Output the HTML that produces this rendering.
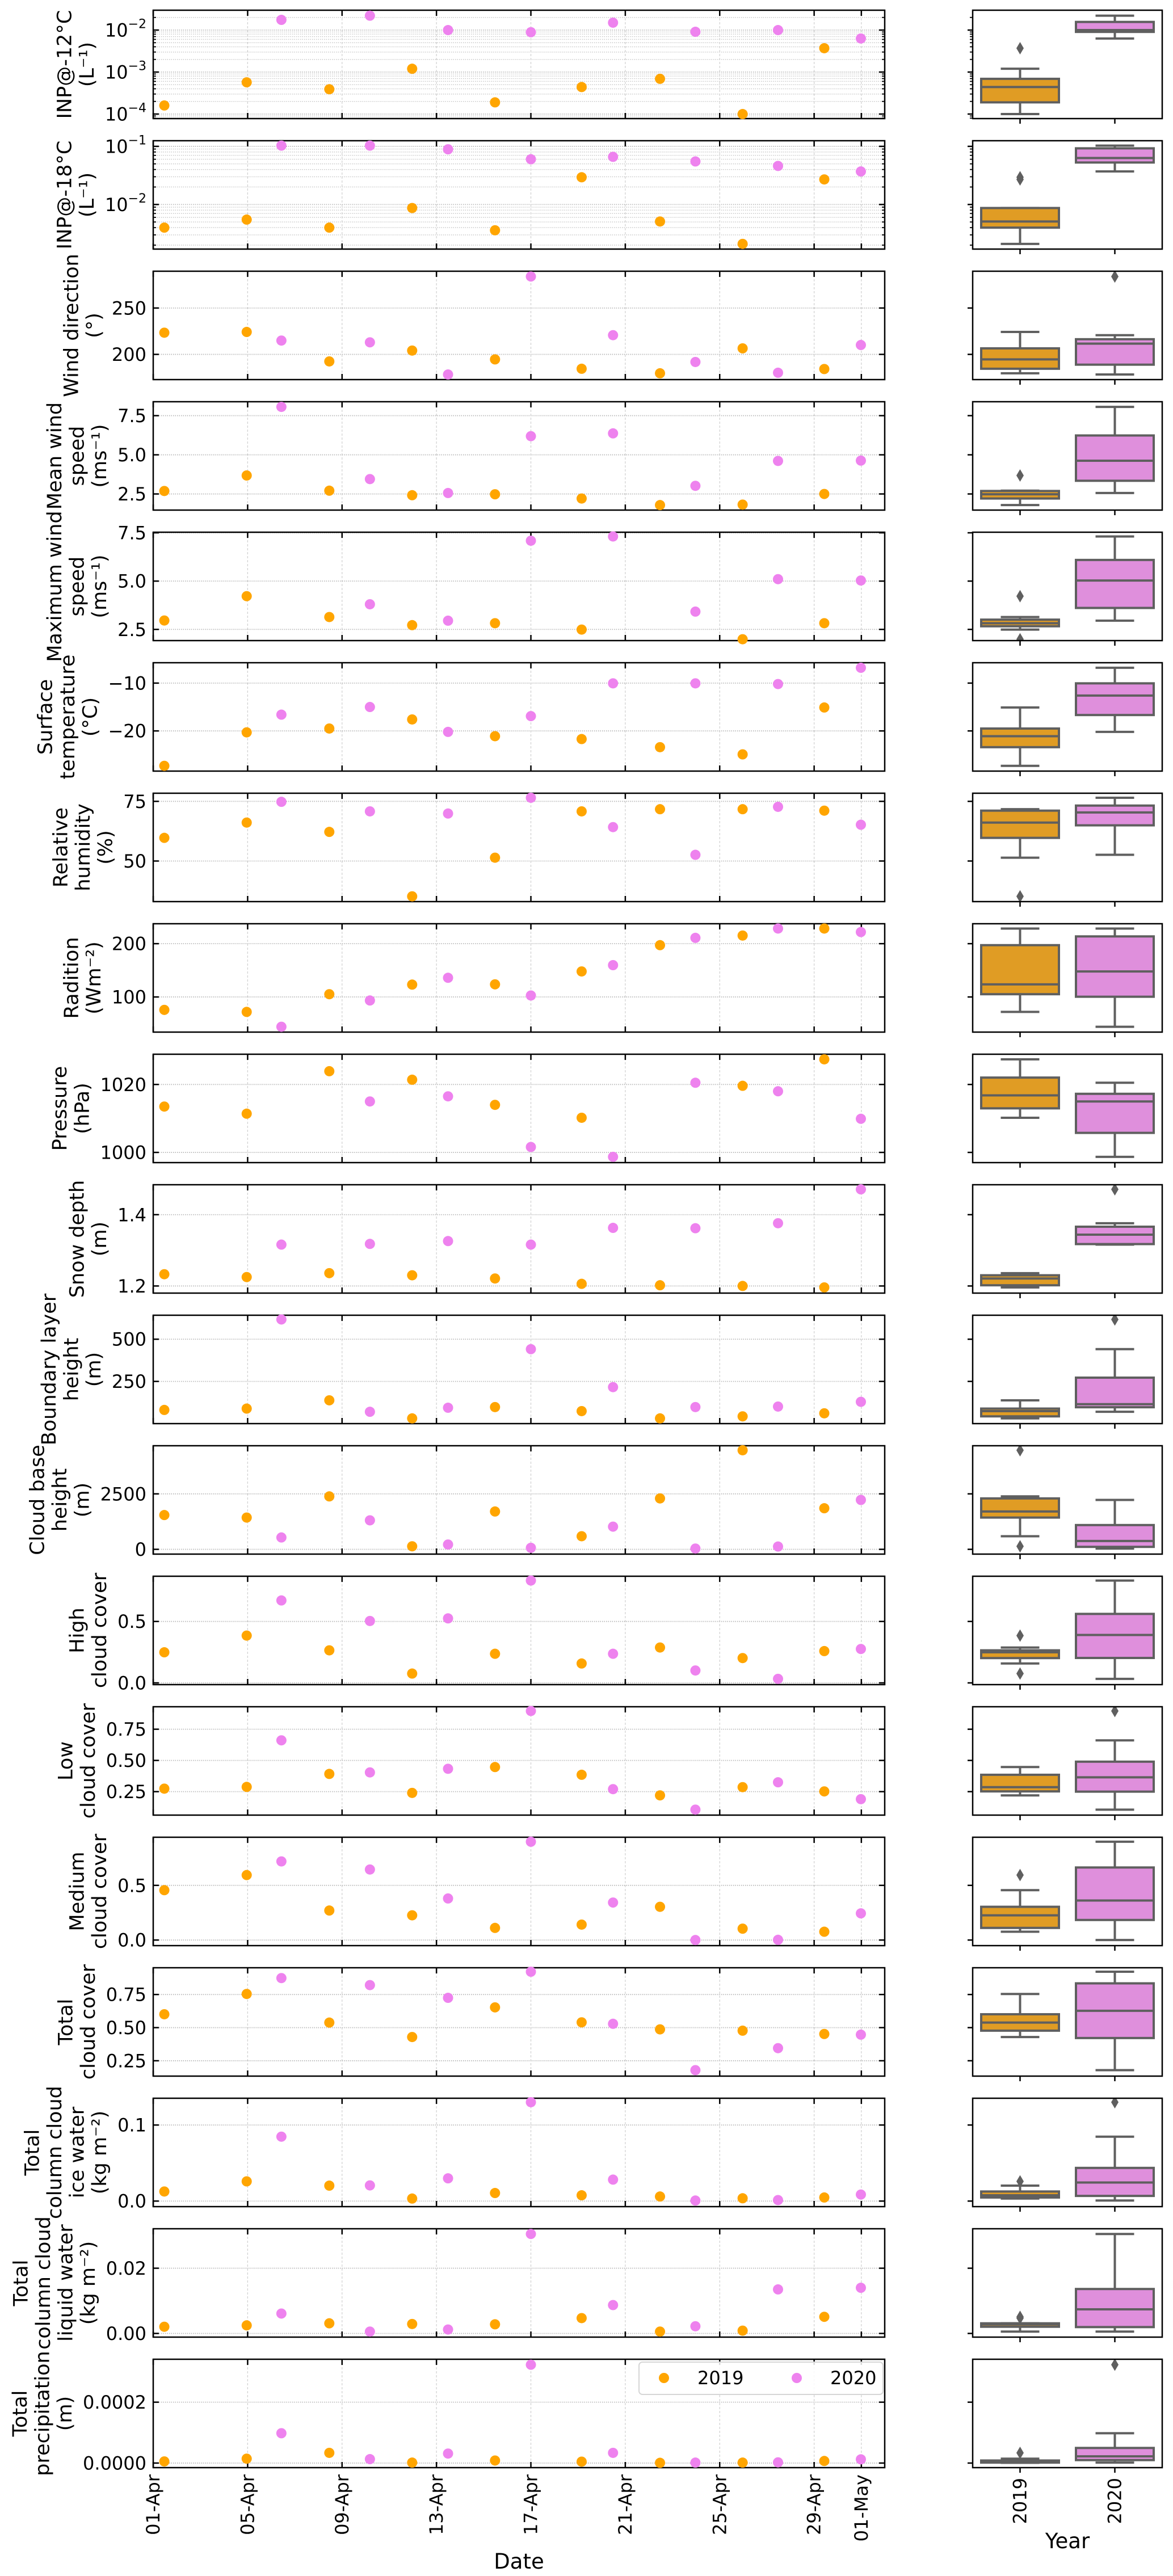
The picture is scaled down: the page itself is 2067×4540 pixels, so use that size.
<!DOCTYPE html>
<html><head><meta charset="utf-8"><title>Meteorological variables 2019 vs 2020</title>
<style>html,body{margin:0;padding:0;background:#fff}svg{display:block}text{font-family:"DejaVu Sans","Liberation Sans",sans-serif;fill:#000}</style>
</head><body>
<svg id="chart" width="2067" height="4540" viewBox="0 0 2067 4540" xmlns="http://www.w3.org/2000/svg"></svg>
<script>
// ---------- data (day of month, April; 31 = 01-May) ----------
const days2019 = [1.47, 4.96, 8.46, 11.97, 15.48, 19.15, 22.47, 25.97, 29.43];
const days2020 = [6.43, 10.18, 13.49, 17.0, 20.48, 23.97, 27.47, 30.98];
const dateTickDays = [1, 5, 9, 13, 17, 21, 25, 29, 31];
const dateTickLabels = ["01-Apr","05-Apr","09-Apr","13-Apr","17-Apr","21-Apr","25-Apr","29-Apr","01-May"];
const yearLabels = ["2019","2020"];

const inp12_2019 = [1.6e-4,5.7e-4,3.9e-4,1.2e-3,1.9e-4,4.4e-4,6.9e-4,1.0e-4,3.7e-3];
const inp12_2020 = [0.0175,0.022,0.010,0.0089,0.015,0.0091,0.010,0.0063];
const inp18_2019 = [0.0040,0.0055,0.0040,0.0087,0.0036,0.0294,0.0051,0.0021,0.027];
const inp18_2020 = [0.103,0.103,0.089,0.060,0.066,0.055,0.046,0.037];
const wdir_2019 = [223.4,224.2,192.4,204.1,194.6,184.5,179.6,206.5,184.2];
const wdir_2020 = [214.9,213.0,178.3,284.0,220.7,191.8,180.2,210.1];
const wmean_2019 = [2.69,3.68,2.71,2.42,2.48,2.21,1.79,1.82,2.5];
const wmean_2020 = [8.06,3.45,2.56,6.19,6.37,3.02,4.61,4.63];
const wmax_2019 = [2.96,4.22,3.14,2.72,2.82,2.49,null,1.99,2.82];
const wmax_2020 = [null,3.80,2.95,7.09,7.31,3.42,5.10,5.03];
const temp_2019 = [-27.3,-20.3,-19.5,-17.6,-21.1,-21.7,-23.4,-24.9,-15.1];
const temp_2020 = [-16.6,-15.0,-20.2,-16.9,-10.05,-10.05,-10.2,-6.8];
const rh_2019 = [59.7,66.1,62.2,35.2,51.4,70.8,71.7,71.7,71.1];
const rh_2020 = [74.8,70.8,69.9,76.5,64.2,52.6,72.7,65.2];
const rad_2019 = [75.8,72.0,105.2,123.2,123.7,147.9,197.2,215.2,228.4];
const rad_2020 = [44.1,93.4,136.0,102.8,159.7,210.9,228.4,221.8];
const pres_2019 = [1013.5,1011.4,1023.9,1021.4,1014.0,1010.2,null,1019.6,1027.4];
const pres_2020 = [null,1015.0,1016.5,1001.6,998.7,1020.5,1018.0,1009.9];
const snow_2019 = [1.233,1.225,1.236,1.230,1.221,1.206,1.202,1.200,1.196];
const snow_2020 = [1.316,1.318,1.326,1.316,1.363,1.362,1.376,1.471];
const blh_2019 = [81,89,138,31,98,74,31,43,61];
const blh_2020 = [617,70,94,441,216,98,101,129];
const cbh_2019 = [1545,1432,2386,136,1705,591,2295,4466,1852];
const cbh_2020 = [534,1307,216,68,1023,34,125,2227];
const hcc_2019 = [0.249,0.385,0.265,0.076,0.237,0.158,0.288,0.202,0.259];
const hcc_2020 = [0.671,0.504,0.525,0.833,0.237,0.101,0.033,0.276];
const lcc_2019 = [0.274,0.288,0.392,0.240,0.447,0.385,0.220,0.286,0.252];
const lcc_2020 = [0.661,0.404,0.433,0.896,0.270,0.106,0.325,0.190];
const mcc_2019 = [0.456,0.594,0.270,0.226,0.111,0.141,0.304,0.104,0.076];
const mcc_2020 = [0.719,0.645,0.380,0.899,0.343,0.0,0.002,0.244];
const tcc_2019 = [0.601,0.754,0.538,0.429,0.653,0.540,0.487,0.477,0.452];
const tcc_2020 = [0.874,0.821,0.725,0.922,0.529,0.179,0.345,0.447];
const ciw_2019 = [0.0126,0.0259,0.0203,0.0033,0.0106,0.0076,0.006,0.0037,0.0047];
const ciw_2020 = [0.0847,0.0206,0.0299,0.130,0.0282,0.0007,0.0013,0.0086];
const clw_2019 = [0.00205,0.00247,0.0031,0.0029,0.0028,0.0047,0.00057,0.00085,0.0051];
const clw_2020 = [0.0061,0.00057,0.0012,0.0305,0.0087,0.0022,0.0135,0.0140];
const tp_2019 = [0.0000053,0.0000144,0.0000335,0.0000015,0.0000084,0.0000046,0.0000008,0.0000015,0.0000068];
const tp_2020 = [0.000098,0.0000129,0.0000312,0.000323,0.0000335,0.0000015,0.0000023,0.0000122];

const ticks_inp12 = [1e-4,1e-3,1e-2];      const tl_inp12 = ["−4","−3","−2"];
const ticks_inp18 = [1e-2,1e-1];           const tl_inp18 = ["−2","−1"];
const ticks_wdir = [200,250];              const tl_wdir = ["200","250"];
const ticks_ws = [2.5,5.0,7.5];            const tl_ws = ["2.5","5.0","7.5"];
const ticks_temp = [-20,-10];              const tl_temp = ["−20","−10"];
const ticks_rh = [50,75];                  const tl_rh = ["50","75"];
const ticks_rad = [100,200];               const tl_rad = ["100","200"];
const ticks_pres = [1000,1020];            const tl_pres = ["1000","1020"];
const ticks_snow = [1.2,1.4];              const tl_snow = ["1.2","1.4"];
const ticks_blh = [250,500];               const tl_blh = ["250","500"];
const ticks_cbh = [0,2500];                const tl_cbh = ["0","2500"];
const ticks_05 = [0.0,0.5];                const tl_05 = ["0.0","0.5"];
const ticks_q = [0.25,0.5,0.75];           const tl_q = ["0.25","0.50","0.75"];
const ticks_ciw = [0.0,0.1];               const tl_ciw = ["0.0","0.1"];
const ticks_clw = [0.0,0.02];              const tl_clw = ["0.00","0.02"];
const ticks_tp = [0.0,0.0002];             const tl_tp = ["0.0000","0.0002"];

const panels = [
 {key:"inp-12", log:true, lim:[-4.108,-1.527], ticks:ticks_inp12, tl:tl_inp12, label:["INP@-12°C","(L⁻¹)"], a:inp12_2019, b:inp12_2020},
 {key:"inp-18", log:true, lim:[-2.767,-0.903], ticks:ticks_inp18, tl:tl_inp18, label:["INP@-18°C","(L⁻¹)"], a:inp18_2019, b:inp18_2020},
 {key:"wind-direction", lim:[172.8,289.7], ticks:ticks_wdir, tl:tl_wdir, label:["Wind direction","(°)"], a:wdir_2019, b:wdir_2020},
 {key:"mean-wind-speed", lim:[1.47,8.39], ticks:ticks_ws, tl:tl_ws, label:["Mean wind","speed","(ms⁻¹)"], a:wmean_2019, b:wmean_2020},
 {key:"max-wind-speed", lim:[1.92,7.53], ticks:ticks_ws, tl:tl_ws, label:["Maximum wind","speed","(ms⁻¹)"], a:wmax_2019, b:wmax_2020},
 {key:"surface-temperature", lim:[-28.4,-5.74], ticks:ticks_temp, tl:tl_temp, label:["Surface","temperature","(°C)"], a:temp_2019, b:temp_2020},
 {key:"relative-humidity", lim:[33.0,78.4], ticks:ticks_rh, tl:tl_rh, label:["Relative","humidity","(%)"], a:rh_2019, b:rh_2020},
 {key:"radiation", lim:[34.1,237.4], ticks:ticks_rad, tl:tl_rad, label:["Radition","(Wm⁻²)"], a:rad_2019, b:rad_2020},
 {key:"pressure", lim:[997.0,1028.9], ticks:ticks_pres, tl:tl_pres, label:["Pressure","(hPa)"], a:pres_2019, b:pres_2020},
 {key:"snow-depth", lim:[1.180,1.484], ticks:ticks_snow, tl:tl_snow, label:["Snow depth","(m)"], a:snow_2019, b:snow_2020},
 {key:"boundary-layer-height", lim:[0,642], ticks:ticks_blh, tl:tl_blh, label:["Boundary layer","height","(m)"], a:blh_2019, b:blh_2020},
 {key:"cloud-base-height", lim:[-216,4670], ticks:ticks_cbh, tl:tl_cbh, label:["Cloud base","height","(m)"], a:cbh_2019, b:cbh_2020},
 {key:"high-cloud-cover", lim:[-0.014,0.868], ticks:ticks_05, tl:tl_05, label:["High","cloud cover"], a:hcc_2019, b:hcc_2020},
 {key:"low-cloud-cover", lim:[0.062,0.930], ticks:ticks_q, tl:tl_q, label:["Low","cloud cover"], a:lcc_2019, b:lcc_2020},
 {key:"medium-cloud-cover", lim:[-0.051,0.940], ticks:ticks_05, tl:tl_05, label:["Medium","cloud cover"], a:mcc_2019, b:mcc_2020},
 {key:"total-cloud-cover", lim:[0.134,0.952], ticks:ticks_q, tl:tl_q, label:["Total","cloud cover"], a:tcc_2019, b:tcc_2020},
 {key:"cloud-ice-water", lim:[-0.0073,0.1352], ticks:ticks_ciw, tl:tl_ciw, label:["Total","column cloud","ice water","(kg m⁻²)"], a:ciw_2019, b:ciw_2020},
 {key:"cloud-liquid-water", lim:[-0.00113,0.0321], ticks:ticks_clw, tl:tl_clw, label:["Total","column cloud","liquid water","(kg m⁻²)"], a:clw_2019, b:clw_2020},
 {key:"total-precipitation", lim:[-0.000015,0.000341], ticks:ticks_tp, tl:tl_tp, label:["Total","precipitation","(m)"], a:tp_2019, b:tp_2020}
];

// ---------- layout ----------
const NS = "http://www.w3.org/2000/svg";
const svg = document.getElementById("chart");
const X0 = 270, X1 = 1559, BX0 = 1714, BX1 = 2048, TOP0 = 18, PH = 191, PITCH = 230;
const PXD = (X1 - X0) / 30.99;
const C19 = "#FFA500", C20 = "#EE82EE", F19 = "#e09c24", F20 = "#df8fdc", GREY = "#5f5f5f";
const BC = [BX0 + (BX1 - BX0) * 0.25, BX0 + (BX1 - BX0) * 0.75];
function el(tag, attrs, parent) {
  const e = document.createElementNS(NS, tag);
  for (const k in attrs) e.setAttribute(k, attrs[k]);
  (parent || svg).appendChild(e);
  return e;
}
function xs(d) { return X0 + (d - 1) * PXD; }
function quant(s, p) { const i = (s.length - 1) * p, lo = Math.floor(i), hi = Math.ceil(i); return s[lo] + (s[hi] - s[lo]) * (i - lo); }

panels.forEach((P, k) => {
  const top = TOP0 + k * PITCH, bot = top + PH;
  const tf = v => P.log ? Math.log10(v) : v;
  const ys = v => top + PH * (P.lim[1] - tf(v)) / (P.lim[1] - P.lim[0]);
  const g = el("g", {});
  
  

  const cp = el("clipPath", {id: "clip" + k}, g);
  el("rect", {x: X0, y: top, width: X1 - X0, height: PH}, cp);
  const cpb = el("clipPath", {id: "clipb" + k}, g);
  el("rect", {x: BX0, y: top, width: BX1 - BX0, height: PH}, cpb);

  // grid
  const grid = el("g", {"clip-path": "url(#clip" + k + ")"}, g);
  
  
  dateTickDays.forEach(d => el("line", {x1: xs(d), x2: xs(d), y1: top, y2: bot, stroke: "#cfcfcf", "stroke-width": 1.2, "stroke-dasharray": "4,3"}, grid));
  if (P.log) {
    for (let e = Math.floor(P.lim[0]); e <= Math.ceil(P.lim[1]); e++) {
      for (let m = 2; m <= 9; m++) {
        const v = m * Math.pow(10, e);
        const t = Math.log10(v);
        if (t < P.lim[0] || t > P.lim[1]) continue;
        el("line", {x1: X0, x2: X1, y1: ys(v), y2: ys(v), stroke: "#c8c8c8", "stroke-width": 1.5, "stroke-dasharray": "1.5,2"}, grid);
        el("line", {x1: X0, x2: X0 + 5, y1: ys(v), y2: ys(v), stroke: "#000", "stroke-width": 1.8}, g);
        el("line", {x1: X1, x2: X1 - 5, y1: ys(v), y2: ys(v), stroke: "#000", "stroke-width": 1.8}, g);
        el("line", {x1: BX0, x2: BX0 - 5, y1: ys(v), y2: ys(v), stroke: "#000", "stroke-width": 1.8}, g);
      }
    }
  }
  P.ticks.forEach(v => el("line", {x1: X0, x2: X1, y1: ys(v), y2: ys(v), stroke: "#b8b8b8", "stroke-width": 1.8, "stroke-dasharray": "1.5,2"}, grid));

  // spines + ticks
  const sp = el("rect", {x: X0, y: top, width: X1 - X0, height: PH, fill: "none", stroke: "#000", "stroke-width": 2.5}, g);
  
  
  dateTickDays.forEach(d => {
    el("line", {x1: xs(d), x2: xs(d), y1: bot, y2: bot - 10, stroke: "#000", "stroke-width": 2.5}, g);
    el("line", {x1: xs(d), x2: xs(d), y1: top, y2: top + 10, stroke: "#000", "stroke-width": 2.5}, g);
  });
  let maxW = 0;
  P.ticks.forEach((v, i) => {
    const y = ys(v);
    el("line", {x1: X0, x2: X0 + 10, y1: y, y2: y, stroke: "#000", "stroke-width": 2.5}, g);
    el("line", {x1: X1, x2: X1 - 10, y1: y, y2: y, stroke: "#000", "stroke-width": 2.5}, g);
    const t = el("text", {x: 258, y: y + 11.5, "text-anchor": "end", "font-size": 32}, g);
    
    
    if (P.log) {
      t.textContent = "10";
      const s = el("tspan", {dy: -15, "font-size": 22}, t);
      s.textContent = P.tl[i];
    } else {
      t.textContent = P.tl[i];
    }
    let w = 0;
    try { w = t.getBBox().width; } catch (e) { w = P.tl[i].length * 20; }
    if (!w) w = P.tl[i].length * 20;
    maxW = Math.max(maxW, w);
  });

  // points (unclipped, drawn over frame)
  const pts = el("g", {}, g);
  
  
  [[P.a, days2019, C19, "2019"], [P.b, days2020, C20, "2020"]].forEach(([vals, dd, col, yr]) => {
    vals.forEach((v, i) => {
      if (v === null) return;
      const c = el("circle", {cx: xs(dd[i]), cy: ys(v), r: 9, fill: col}, pts);
      
      
    });
  });

  // y label: placed left of the widest tick label (matplotlib-style)
  const n = P.label.length, lh = 39.5, cy = top + PH / 2;
  const last = 258 - maxW - 20;
  const yl = el("g", {}, g);
  
  
  P.label.forEach((line, i) => {
    const bx = last - (n - 1 - i) * lh;
    const t = el("text", {transform: "translate(" + bx + "," + cy + ") rotate(-90)", "text-anchor": "middle", "font-size": 35}, yl);
    t.textContent = line;
  });

  // box plot axes
  const bg = el("g", {}, g);
  
  
  const bin = el("g", {"clip-path": "url(#clipb" + k + ")"}, bg);
  [[P.a, F19, "2019"], [P.b, F20, "2020"]].forEach(([vals, fill, yr], j) => {
    const s = vals.filter(v => v !== null).sort((p, q) => p - q);
    const q1 = quant(s, 0.25), md = quant(s, 0.5), q3 = quant(s, 0.75), iqr = q3 - q1;
    const inr = s.filter(v => v >= q1 - 1.5 * iqr && v <= q3 + 1.5 * iqr);
    const lo = inr[0], hi = inr[inr.length - 1];
    const cx = BC[j], hw = 68.5, cw = 34;
    const bx = el("g", {}, bin);
    
    
    const lineA = {stroke: GREY, "stroke-width": 4};
    el("line", Object.assign({x1: cx, x2: cx, y1: ys(q3), y2: ys(hi)}, lineA), bx);
    el("line", Object.assign({x1: cx, x2: cx, y1: ys(q1), y2: ys(lo)}, lineA), bx);
    el("line", Object.assign({x1: cx - cw, x2: cx + cw, y1: ys(hi), y2: ys(hi)}, lineA), bx);
    el("line", Object.assign({x1: cx - cw, x2: cx + cw, y1: ys(lo), y2: ys(lo)}, lineA), bx);
    el("rect", {x: cx - hw, y: ys(q3), width: 2 * hw, height: Math.max(0.5, ys(q1) - ys(q3)), fill: fill, stroke: GREY, "stroke-width": 4}, bx);
    el("line", Object.assign({x1: cx - hw, x2: cx + hw, y1: ys(md), y2: ys(md)}, lineA), bx);
    s.filter(v => v < lo || v > hi).forEach(v => {
      const y = ys(v);
      const f = el("polygon", {points: (cx) + "," + (y - 11) + " " + (cx + 6.5) + "," + y + " " + cx + "," + (y + 11) + " " + (cx - 6.5) + "," + y, fill: GREY}, bx);
      
      
    });
  });
  el("rect", {x: BX0, y: top, width: BX1 - BX0, height: PH, fill: "none", stroke: "#000", "stroke-width": 2.5}, bg);
  P.ticks.forEach(v => el("line", {x1: BX0, x2: BX0 - 9, y1: ys(v), y2: ys(v), stroke: "#000", "stroke-width": 2.5}, bg));
  BC.forEach(cx => el("line", {x1: cx, x2: cx, y1: bot, y2: bot + 9, stroke: "#000", "stroke-width": 2.5}, bg));
});

// ---------- bottom axis labels ----------
const lastBot = TOP0 + 18 * PITCH + PH;
dateTickDays.forEach((d, i) => {
  const t = el("text", {transform: "translate(" + (xs(d) + 11) + "," + (lastBot + 12) + ") rotate(-90)", "text-anchor": "end", "font-size": 32});
  
  
  t.textContent = dateTickLabels[i];
});
yearLabels.forEach((y, i) => {
  const t = el("text", {transform: "translate(" + (BC[i] + 11) + "," + (lastBot + 18) + ") rotate(-90)", "text-anchor": "end", "font-size": 32});
  
  
  t.textContent = y;
});
const xt = el("text", {x: (X0 + X1) / 2, y: 4527, "text-anchor": "middle", "font-size": 37});


xt.textContent = "Date";
const yt = el("text", {x: (BX0 + BX1) / 2, y: 4491, "text-anchor": "middle", "font-size": 37});


yt.textContent = "Year";

// ---------- legend ----------
const lg = el("g", {});


el("rect", {x: 1126, y: 4163, width: 430, height: 57, rx: 6, fill: "#fff", "fill-opacity": 0.85, stroke: "#d6d6d6", "stroke-width": 2}, lg);
[[1170, C19, "2019"], [1404, C20, "2020"]].forEach(([x, c, s]) => {
  const it = el("g", {}, lg);
  
  
  el("circle", {cx: x, cy: 4191, r: 9, fill: c}, it);
  const t = el("text", {x: x + 59, y: 4202, "font-size": 32}, it);
  t.textContent = s;
});
</script>
</body></html>
